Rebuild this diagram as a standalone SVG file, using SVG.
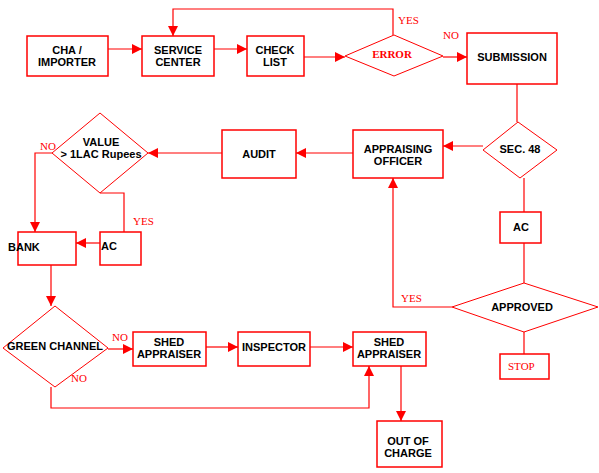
<svg xmlns="http://www.w3.org/2000/svg" width="599" height="473" viewBox="0 0 599 473">
<defs>
<marker id="ah" markerUnits="userSpaceOnUse" markerWidth="10" markerHeight="10" viewBox="0 0 10 10" refX="10" refY="5" orient="auto">
<path d="M0,0 L10,5 L0,10 z" fill="#ff0000"/>
</marker>
</defs>
<style>
.box{fill:#fff;stroke:#ff0000;stroke-width:1.5}
.dia{fill:#fff;stroke:#ff0000;stroke-width:1}
.t{font-family:"Liberation Sans",Arial,sans-serif;font-weight:bold;font-size:11px;fill:#000;text-anchor:middle}
.ts{font-family:"Liberation Sans",Arial,sans-serif;font-weight:bold;font-size:11px;fill:#000;text-anchor:start}
.r{font-family:"Liberation Serif","Times New Roman",serif;font-size:11px;fill:#ff0000}
.c{fill:none;stroke:#ff0000;stroke-width:1.2}
.ca{fill:none;stroke:#ff0000;stroke-width:1.2;marker-end:url(#ah)}
</style>
<rect width="599" height="473" fill="#fff"/>
<g id="connectors">
<path class="ca" d="M108,49 H142"/>
<path class="ca" d="M214,49 H247"/>
<path class="ca" d="M304,57 H345"/>
<path class="ca" d="M393,35 V9 H173 V36"/>
<path class="ca" d="M443,57 H467"/>
<path class="c" d="M517,84 V122"/>
<path class="ca" d="M483,146 H443"/>
<path class="ca" d="M353,153 H296"/>
<path class="ca" d="M222,153 H148"/>
<path class="ca" d="M52,153 H35 V232"/>
<path class="c" d="M100,193 H124 V232"/>
<path class="ca" d="M100,243 H76"/>
<path class="ca" d="M51,265 V306"/>
<path class="ca" d="M108,349 H133"/>
<path class="ca" d="M206,347 H238"/>
<path class="ca" d="M310,347 H353"/>
<path class="ca" d="M51,387 V408 H369 V366"/>
<path class="ca" d="M401,366 V421"/>
<path class="c" d="M524,178 V212"/>
<path class="c" d="M524,243 V283"/>
<path class="ca" d="M452,307 H393 V178"/>
<path class="c" d="M524,332 V354"/>
</g>
<g id="cha"><rect class="box" x="27" y="36" width="81" height="40"/><text class="t" x="67" y="54">CHA /</text><text class="t" x="67" y="66">IMPORTER</text></g>
<g id="service"><rect class="box" x="142" y="36" width="72" height="40"/><text class="t" x="178" y="54">SERVICE</text><text class="t" x="178" y="66">CENTER</text></g>
<g id="checklist"><rect class="box" x="247" y="36" width="57" height="40"/><text class="t" x="275" y="54">CHECK</text><text class="t" x="275" y="66">LIST</text></g>
<g id="error"><polygon class="dia" points="394,35 443,56 394,76 345,56"/><text class="r" x="392" y="58" text-anchor="middle" font-weight="bold">ERROR</text></g>
<g id="submission"><rect class="box" x="467" y="33" width="90" height="51"/><text class="t" x="512" y="61">SUBMISSION</text></g>
<g id="sec48"><polygon class="dia" points="518,122 557,150 520,178 483,150"/><text class="t" x="520" y="153">SEC. 48</text></g>
<g id="officer"><rect class="box" x="353" y="130" width="90" height="48"/><text class="t" x="398" y="153">APPRAISING</text><text class="t" x="398" y="165">OFFICER</text></g>
<g id="audit"><rect class="box" x="222" y="130" width="74" height="48"/><text class="t" x="259" y="158">AUDIT</text></g>
<g id="value"><polygon class="dia" points="100,113 148,153 100,193 52,153"/><text class="t" x="101" y="146">VALUE</text><text class="t" x="101" y="158">&gt; 1LAC Rupees</text></g>
<g id="ac1"><rect class="box" x="100" y="232" width="41" height="33"/><text class="ts" x="101" y="250">AC</text></g>
<g id="bank"><rect class="box" x="18" y="232" width="58" height="33"/><text class="ts" x="8" y="251">BANK</text></g>
<g id="green"><polygon class="dia" points="55,306 108,348 55,387 3,348"/><text class="t" x="55" y="350">GREEN CHANNEL</text></g>
<g id="shed1"><rect class="box" x="133" y="332" width="73" height="34"/><text class="t" x="169" y="346">SHED</text><text class="t" x="169" y="358">APPRAISER</text></g>
<g id="inspector"><rect class="box" x="238" y="332" width="72" height="34"/><text class="t" x="274" y="351">INSPECTOR</text></g>
<g id="shed2"><rect class="box" x="353" y="332" width="73" height="34"/><text class="t" x="389" y="346">SHED</text><text class="t" x="389" y="358">APPRAISER</text></g>
<g id="outofcharge"><rect class="box" x="377" y="421" width="65" height="46"/><text class="t" x="408" y="445">OUT OF</text><text class="t" x="408" y="457">CHARGE</text></g>
<g id="ac2"><rect class="box" x="500" y="212" width="41" height="31"/><text class="t" x="521" y="231">AC</text></g>
<g id="approved"><polygon class="dia" points="524,283 598,307 524,332 452,307"/><text class="t" x="522" y="311">APPROVED</text></g>
<g id="stop"><rect class="box" x="500" y="354" width="49" height="25"/><text class="r" x="508" y="370">STOP</text></g>
<g id="labels">
<text class="r" x="398" y="24">YES</text>
<text class="r" x="443" y="39">NO</text>
<text class="r" x="40" y="150">NO</text>
<text class="r" x="133" y="225">YES</text>
<text class="r" x="112" y="341">NO</text>
<text class="r" x="71" y="382">NO</text>
<text class="r" x="401" y="302">YES</text>
</g>
</svg>
